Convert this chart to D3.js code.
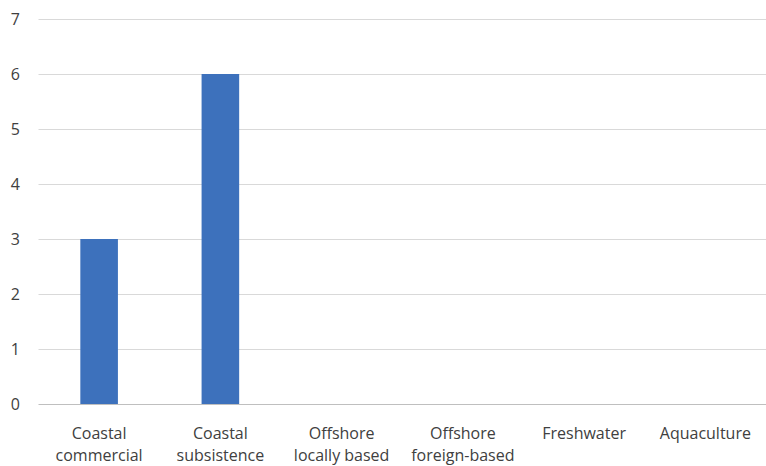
<!DOCTYPE html>
<html><head><meta charset="utf-8">
<script src="https://cdn.jsdelivr.net/npm/d3@7"></script>
<style>body{margin:0;background:#fff}svg{display:block}text{font-family:"Open Sans",sans-serif;fill:#404040}</style>
</head><body><svg id="c" width="766" height="466"></svg>
<script>
const categories = [["Coastal","commercial"],["Coastal","subsistence"],["Offshore","locally based"],["Offshore","foreign-based"],["Freshwater"],["Aquaculture"]];
const values = [3,6,0,0,0,0];
const yTicks = [0,1,2,3,4,5,6,7];

const svg = d3.select("#c");
const x = d3.scaleBand().domain(d3.range(categories.length)).range([38.5,766]).padding(0);
const y = d3.scaleLinear().domain([0,7]).range([404,19]);
const barW = x.step()*0.31;

svg.append("g").selectAll("line").data(yTicks.filter(d=>d>0)).join("line")
  .attr("x1",38.5).attr("x2",766).attr("y1",d=>Math.round(y(d))+0.5).attr("y2",d=>Math.round(y(d))+0.5)
  .attr("stroke","#d9d9d9").attr("stroke-width",1);

svg.append("g").selectAll("text").data(yTicks).join("text")
  .attr("x",20).attr("y",d=>y(d)).attr("dy","0.35em").attr("text-anchor","end")
  .style("font-size","16px").text(d=>d);

svg.append("g").selectAll("rect").data(values).join("rect")
  .attr("x",(d,i)=>x(i)+x.bandwidth()/2-barW/2).attr("width",barW)
  .attr("y",d=>y(d)).attr("height",d=>y(0)-y(d)).attr("fill","#3d71bc");

svg.append("line").attr("x1",38.5).attr("x2",766).attr("y1",Math.round(y(0))+0.5).attr("y2",Math.round(y(0))+0.5)
  .attr("stroke","#bfbfbf").attr("stroke-width",1);

const lab = svg.append("g").selectAll("text").data(categories).join("text")
  .attr("x",(d,i)=>x(i)+x.bandwidth()/2).attr("y",439).attr("text-anchor","middle").style("font-size","16px");
lab.each(function(d){
  const t=d3.select(this);
  d.forEach((s,k)=>t.append("tspan").attr("x",t.attr("x")).attr("dy",k?22:0).text(s));
});
</script></body></html>
